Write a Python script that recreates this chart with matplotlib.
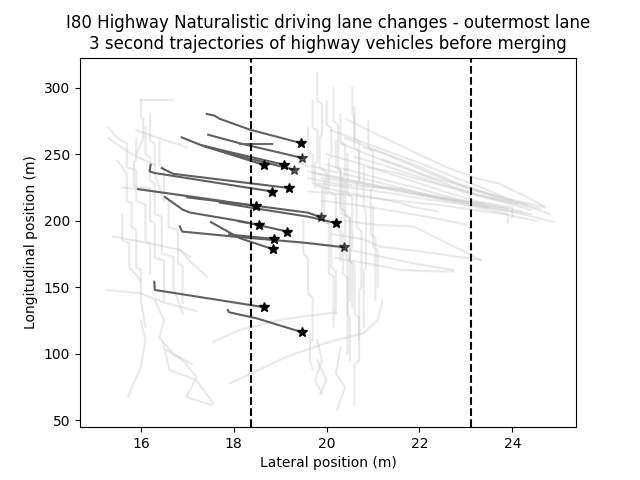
import matplotlib
matplotlib.use("Agg")
import matplotlib.pyplot as plt

# Lane boundaries (lateral position, m)
lane_lines = [18.38, 23.10]

# Background trajectories (lateral, longitudinal) - all other highway vehicles
bg_x = [
    # left cluster
    [16.0, 16.7],
    [16.0, 16.0, 16.05, 16.05, 15.9],
    [15.3, 15.5, 15.7, 15.7, 15.9, 15.9, 16.1, 16.1, 16.2, 16.2],
    [15.9, 15.9, 15.85, 15.85, 16.2, 16.2, 16.3, 16.3, 16.5, 16.5],
    [16.1, 16.1, 16.2, 16.2, 16.3, 16.3, 16.45, 16.45, 16.7, 16.7, 16.9],
    [15.5, 15.7, 15.7, 15.8, 15.8, 15.9, 15.9, 16.0, 16.0, 16.1],
    [16.4, 16.4, 16.5, 16.5, 16.6, 16.6, 16.8, 16.8, 16.9, 16.9],
    [15.3, 15.8, 16.3],
    [15.4, 16.2, 16.84, 17.06],
    [15.26, 15.98, 16.55, 17.2],
    [16.55, 16.9, 17.2, 16.98, 17.52],
    [15.72, 16.0, 16.1, 16.0],
    [16.3, 16.5, 16.4, 16.7, 17.1],
    [15.6, 16.3, 17.2, 17.8],
    [15.9, 16.4, 17.0],
    [16.84, 17.1, 17.42],
    [16.48, 16.62, 17.2, 17.56],
    [15.6, 15.6, 15.75, 15.75, 16.0],
    [16.2, 16.2, 16.3, 16.3, 16.5],
    # central vertical cluster
    [19.8, 19.8, 19.9, 19.9, 19.85, 19.85, 20.0, 20.0],
    [20.0, 20.0, 20.1, 20.1, 20.05, 20.05, 20.2, 20.2, 20.3, 20.3],
    [20.3, 20.3, 20.4, 20.4, 20.35, 20.35, 20.5, 20.5, 20.55, 20.55],
    [20.6, 20.6, 20.7, 20.7, 20.65, 20.65, 20.75, 20.75, 20.7, 20.7],
    [19.6, 19.6, 19.7, 19.7, 19.9, 19.9, 20.1, 20.1, 20.2, 20.2],
    [20.9, 20.9, 21.0, 21.0, 20.95, 20.95, 21.05, 21.05],
    [20.2, 20.2, 20.3, 20.3, 20.4, 20.4, 20.45, 20.45, 20.5, 20.5],
    [20.4, 20.4, 20.5, 20.5, 20.6, 20.6, 20.7, 20.7, 20.6, 20.6],
    [19.5, 19.5, 19.6, 19.6, 19.7, 19.7],
    [20.45, 20.45, 20.55, 20.55, 20.5, 20.5],
    [20.8, 20.8, 20.85, 20.85, 20.8, 20.8],
    [20.15, 20.15, 20.25, 20.25, 20.3, 20.3],
    [19.95, 19.95, 20.05, 20.05, 20.15, 20.15],
    [20.35, 20.35, 20.45, 20.45],
    [21.0, 21.0, 21.1, 21.1],
    [20.55, 20.55, 20.6, 20.6, 20.7, 20.7],
    [19.7, 19.7, 19.8, 19.8, 19.75, 19.75],
    [19.8, 19.9, 19.75, 19.9],
    [20.3, 20.2, 20.4, 20.22],
    [17.92, 19.14, 20.07, 20.79, 21.1, 21.2],
    [17.56, 18.13, 18.99, 19.5, 20.2],
    [19.64, 19.64, 19.7],
    [19.79, 20.0, 19.86],
    # sloped band towards the next lane
    [19.4, 19.8, 20.5, 21.2, 22.0, 22.8, 23.5, 24.2, 24.9],
    [19.6, 20.2, 21.0, 21.8, 22.5, 23.1, 23.8, 24.4],
    [20.0, 20.6, 21.3, 22.0, 22.7, 23.3, 24.0, 24.0],
    [20.4, 21.0, 21.6, 22.2, 22.9, 23.5, 24.1, 24.7],
    [19.8, 20.5, 21.3, 22.0, 22.8, 23.4, 23.9, 23.9],
    [20.43, 20.9, 21.5, 22.1, 22.6, 23.2, 23.7, 24.3, 24.67],
    [19.6, 20.3, 21.0, 21.8, 22.6, 23.2, 23.8, 24.5],
    [20.8, 21.3, 21.9, 22.5, 23.0, 23.6, 24.3],
    [19.9, 20.6, 21.3, 22.0, 22.6, 23.0],
    [19.71, 20.5, 21.3, 22.0, 22.73],
    [20.4, 21.0, 21.87, 22.6, 23.31],
    [20.1, 20.8, 21.15, 22.2, 23.31],
    [20.2, 21.0, 21.58, 22.2, 22.73],
    [19.6, 20.2, 21.0, 21.6, 22.3, 23.0, 23.6, 24.2],
    [20.9, 21.5, 22.1, 22.8, 23.5, 24.4, 24.8],
    [19.7, 20.2, 20.8, 21.4, 22.2, 22.9, 23.4],
    [20.1, 20.7, 21.4, 22.1, 22.8, 23.4, 23.8],
    [19.8, 20.3, 20.9, 21.5, 21.9, 22.4],
    [21.2, 21.7, 22.3, 23.0, 23.6, 24.2, 24.6],
    [20.0, 20.6, 21.2, 21.9, 22.5, 23.1, 23.9],
    [20.6, 21.2, 21.8, 22.4, 23.0, 23.7, 24.4],
    [19.9, 20.5, 21.1, 21.7, 22.4, 23.0, 23.5],
    [20.3, 20.8, 21.4, 22.0, 22.7, 23.3, 24.1],
]
bg_y = [
    [291, 291],
    [291, 278, 276, 262, 250],
    [270, 262, 258, 240, 238, 215, 212, 185, 182, 160],
    [262, 246, 244, 226, 224, 200, 198, 172, 170, 140],
    [270, 250, 248, 230, 228, 205, 203, 175, 173, 150, 130],
    [245, 235, 215, 213, 195, 193, 165, 163, 140, 120],
    [260, 242, 240, 218, 216, 195, 193, 168, 166, 138],
    [262, 250, 242],
    [188, 183, 178, 173],
    [147.9, 145.4, 137.9, 132],
    [102.7, 95, 82.6, 67.5, 61.3],
    [67.3, 90, 110, 125],
    [140, 125, 112, 100, 92],
    [225, 222, 218, 215],
    [268, 262, 255],
    [178, 168, 158],
    [107.8, 87.7, 80, 62.6],
    [205, 185, 183, 165, 155],
    [280, 260, 258, 235, 215],
    [311, 290, 288, 265, 262, 240, 236, 220],
    [290, 272, 270, 248, 246, 222, 219, 195, 192, 170],
    [280, 260, 257, 235, 232, 205, 202, 170, 167, 135],
    [285, 262, 259, 230, 227, 195, 192, 150, 148, 110],
    [270, 252, 250, 228, 226, 200, 197, 165, 162, 130],
    [275, 255, 252, 225, 222, 190, 187, 140],
    [260, 240, 237, 210, 207, 175, 172, 130, 127, 95],
    [230, 205, 202, 170, 167, 130, 127, 95, 92, 62],
    [200, 175, 172, 145, 142, 110],
    [250, 220, 218, 180, 178, 140],
    [240, 210, 207, 165, 162, 120],
    [300, 275, 272, 240, 238, 205],
    [230, 200, 198, 160, 158, 120],
    [190, 160, 157, 100],
    [210, 180, 178, 150],
    [300, 280, 278, 255, 252, 230],
    [290, 270, 268, 245, 243, 225],
    [110, 95, 80, 70],
    [105, 85, 75, 57.5],
    [77.6, 97.7, 109, 115.3, 125, 140],
    [109, 117.8, 125.3, 128, 131],
    [115, 95, 88],
    [95.2, 80, 70],
    [243, 240, 234, 228, 221, 215, 210, 205, 199],
    [237, 233, 227, 221, 216, 212, 208, 205],
    [250, 244, 236, 228, 220, 214, 210, 203],
    [262, 254, 245, 236, 226, 220, 215, 210],
    [228, 225, 221, 217, 213, 209, 205, 198],
    [276, 268, 258, 248, 240, 232, 228, 218, 211],
    [222, 220, 217, 214, 211, 208, 205, 200],
    [255, 250, 242, 233, 225, 218, 212],
    [215, 212, 208, 204, 200, 197],
    [183, 178, 172, 167, 163],
    [200, 197, 195.6, 183, 170.5],
    [190, 186, 180.5, 176, 170.5],
    [172, 167, 163, 162, 161.7],
    [232, 228, 225, 224, 218, 214, 211, 207],
    [240, 236, 230, 224, 217, 210, 205],
    [236, 232, 228, 224, 219, 215, 213],
    [268, 260, 251, 242, 232, 224, 218],
    [226, 222, 218, 214, 210, 207],
    [246, 240, 232, 226, 219, 213, 209],
    [242, 237, 231, 225, 219, 214, 209],
    [248, 242, 235, 228, 221, 215, 208],
    [232, 229, 225, 221, 217, 213, 210],
    [258, 251, 243, 235, 226, 219, 213],
]

# Lane-change trajectories from the outermost lane (dark), ending with a star
lc_x = [
    [17.42, 17.59, 17.69, 18.35, 19.44],
    [17.45, 18.17, 19.48],
    [16.88, 17.31, 18.66],
    [17.30, 17.8, 19.09],
    [17.38, 17.9, 19.30],
    [16.45, 16.70, 19.20],
    [16.21, 16.19, 16.30, 18.83],
    [15.94, 18.49, 19.6, 19.87],
    [17.00, 18.49],
    [17.70, 18.6, 19.6, 20.21],
    [16.52, 16.91, 17.06, 18.20, 19.15],
    [18.10, 18.55],
    [16.84, 16.89, 18.13, 19.5, 20.38],
    [17.9, 18.87],
    [17.51, 18.13, 18.85],
    [16.29, 16.30, 18.66],
    [17.87, 17.90, 18.49, 19.48],
]
lc_y = [
    [280.2, 278.9, 276.7, 268.4, 258.4],
    [264.6, 257.8, 247.1],
    [262.6, 256.6, 241.8],
    [256.8, 252.5, 242.0],
    [255.8, 250.5, 238.3],
    [239.5, 235.2, 224.5],
    [242.0, 237.0, 235.8, 221.9],
    [223.7, 211.1, 206.0, 202.6],
    [217.5, 211.1],
    [213.6, 208.5, 203.0, 198.1],
    [217.7, 208.1, 206.1, 199.3, 191.8],
    [199.5, 196.8],
    [195.6, 191.8, 187.6, 183.5, 180.0],
    [189.5, 186.3],
    [198.9, 186.8, 178.5],
    [154.1, 147.9, 134.9],
    [132.8, 131.1, 126.6, 116.0],
]
star_alpha = [1.0, 0.6, 1.0, 1.0, 0.6, 1.0, 1.0, 0.6, 1.0, 1.0, 1.0, 1.0, 0.6, 1.0, 1.0, 1.0, 1.0]

# short dark stub without a star
stub_x = [18.13, 18.82]
stub_y = [257.8, 257.8]

fig, ax = plt.subplots(figsize=(6.4, 4.8), dpi=100)

for xs, ys in zip(bg_x, bg_y):
    ax.plot(xs, ys, color='#c8c8c8', alpha=0.4, lw=1.5, zorder=1)

for xs, ys, a in zip(lc_x, lc_y, star_alpha):
    ax.plot(xs, ys, color='#5f5f5f', lw=1.5, zorder=2)
    ax.plot(xs[-1], ys[-1], marker='*', color='black', alpha=a, markersize=7,
            linestyle='none', zorder=3)

ax.plot(stub_x, stub_y, color='#6a6a6a', lw=1.5, zorder=2)

for lx in lane_lines:
    ax.axvline(lx, color='black', linestyle='--', lw=1.5, zorder=4)

ax.set_xlim(14.69, 25.37)
ax.set_ylim(44.7, 322.6)
ax.set_xticks([16, 18, 20, 22, 24])
ax.set_yticks([50, 100, 150, 200, 250, 300])
ax.set_xlabel('Lateral position (m)')
ax.set_ylabel('Longitudinal position (m)')
ax.set_title('I80 Highway Naturalistic driving lane changes - outermost lane\n'
             '3 second trajectories of highway vehicles before merging')

fig.savefig('out.png', dpi=100)
